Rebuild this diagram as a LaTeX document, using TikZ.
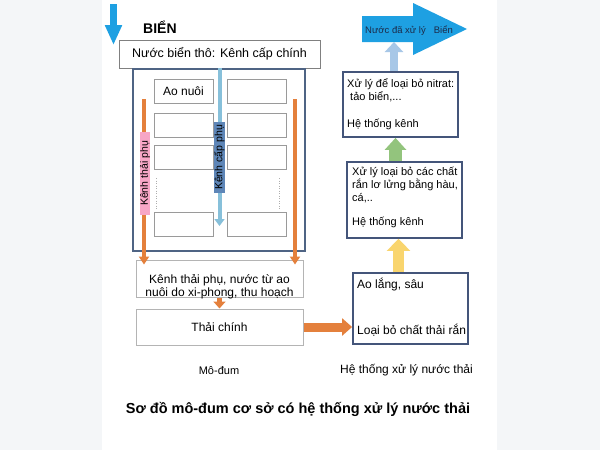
\documentclass[tikz,border=0pt]{standalone}
\usepackage{fontspec}
\setmainfont{Liberation Sans}
\usetikzlibrary{arrows.meta,positioning}

\definecolor{bggray}{HTML}{F4F6F8}
\definecolor{seablue}{HTML}{1EA0E2}
\definecolor{chanorange}{HTML}{E4803C}
\definecolor{chanblue}{HTML}{87C0DA}
\definecolor{steel}{HTML}{5E86B8}
\definecolor{pinklbl}{HTML}{F7A6C6}
\definecolor{framecol}{HTML}{4F6484}
\definecolor{rboxcol}{HTML}{44557A}
\definecolor{pondgray}{HTML}{9A9A9A}
\definecolor{draingray}{HTML}{B4B4B4}
\definecolor{yellowarr}{HTML}{F9D56E}
\definecolor{greenarr}{HTML}{93C47D}
\definecolor{lightarr}{HTML}{A7C7E7}
\definecolor{navytxt}{HTML}{1C2B4A}

\begin{document}
\begin{tikzpicture}[x=1pt,y=-1pt,
  boxfont/.style={font=\fontsize{12}{12.5}\selectfont},
  rtxt/.style={font=\fontsize{11}{13.5}\selectfont,align=left,inner sep=0pt,anchor=base west},
  pond/.style={draw=pondgray,line width=0.8pt,minimum width=59pt,minimum height=24pt,inner sep=0pt},
  rbox/.style={draw=rboxcol,line width=1.8pt,fill=white,minimum width=115pt,inner sep=0pt},
  drainbox/.style={draw=draingray,line width=1pt,fill=white,minimum width=167pt,inner sep=0pt,boxfont},
  chlabel/.style={rotate=90,inner sep=0pt,font=\fontsize{10.5}{12}\selectfont},
  drainarr/.style={line width=4pt,chanorange,-{Triangle[width=10pt,length=8pt]}}]

% page
  \fill[bggray] (0,0) rectangle (600,450);
  \fill[white] (102,0) rectangle (497,450);
  \useasboundingbox (0,0) rectangle (600,450);

% sea inlet
  \coordinate (seatop) at (113.5,4);
  \coordinate (seatip) at (113.5,45);
  \draw[line width=7pt,seablue,-{Triangle[width=16pt,length=20pt]}] (seatop) -- (seatip);
  \node[font=\bfseries\fontsize{14}{16}\selectfont,anchor=base west,inner sep=0pt] (bien) at (143,33) {BIỂN};

  \node[draw=gray,line width=0.8pt,fill=white,minimum width=201pt,minimum height=28pt,font=\fontsize{12.5}{14}\selectfont] (raw) at (219.5,54) {Nước biển thô: Kênh cấp chính\hspace{8pt}};

% module with ponds
  \node[draw=framecol,line width=1.8pt,minimum width=172pt,minimum height=182pt] (module) at (219,160) {};
  \foreach \r/\yc in {1/91.5,2/125,3/157.5,4/224.5} {
    \node[pond] (pl\r) at (183.5,\yc) {};
    \node[pond] (pr\r) at (257,\yc) {};
  }
  \node[boxfont] (aonuoi) at (pl1.center) {Ao nuôi};
  \draw[pondgray!80,line width=0.8pt,dash pattern=on 1pt off 1.5pt] (156,178) -- (156,210);
  \draw[pondgray!80,line width=0.8pt,dash pattern=on 1pt off 1.5pt] (279,178) -- (279,210);

% drainage boxes
  \node[drainbox,minimum height=37pt] (drain) at (219.5,278.5) {};
  \node[boxfont,align=center,inner sep=0pt] (draintxt) at (219.5,287) {Kênh thải phụ, nước từ ao\\nuôi do xi-phong, thu hoạch};
  \node[drainbox,minimum height=36pt] (main) at (219.5,327) {Thải chính};

% supply channel
  \coordinate (sup) at (219.5,0);
  \coordinate (supend) at (219.5,226);
  \draw[line width=4pt,chanblue,-{Triangle[width=10pt,length=7pt]}] (sup |- raw.south) -- (supend);
  \node[chlabel,fill=steel,minimum width=71pt,minimum height=11pt] (kcp) at (219.5,157.5) {Kênh cấp phụ};

% drain channels
  \coordinate (dl) at (144,99);
  \coordinate (dr) at (295,99);
  \draw[drainarr] (dl) -- ([yshift=-5pt]dl |- drain.north);
  \draw[drainarr] (dr) -- ([yshift=-5pt]dr |- drain.north);
  \node[chlabel,fill=pinklbl,minimum width=83pt,minimum height=10pt] (ktp) at (145,173.5) {Kênh thải phụ};
  \draw[line width=5pt,chanorange,-{Triangle[width=12pt,length=7pt]}] (drain.south) -- (main.north);

% treatment chain (multi-line texts sit on their last baseline)
  \node[rbox,minimum height=71pt] (settle) at (410.5,308.5) {};
  \node[rtxt,font=\fontsize{12}{14}\selectfont] (settletop) at (357,288) {Ao lắng, sâu};
  \node[rtxt,font=\fontsize{12}{14}\selectfont] (settlebot) at (357,334) {Loại bỏ chất thải rắn};

  \node[rbox,minimum height=76pt] (oyster) at (404.5,200) {};
  \node[rtxt,font=\fontsize{11}{13}\selectfont] (oystertxt) at (352,225) {Xử lý loại bỏ các chất\\rắn lơ lửng bằng hàu,\\cá,..\\[11pt]Hệ thống kênh};

  \node[rbox,minimum height=65pt] (algae) at (400.5,104.5) {};
  \node[rtxt] (algaetxt) at (347,127) {Xử lý để loại bỏ nitrat:\\\hspace{3pt}tảo biển,...\\[13pt]Hệ thống kênh};

  \draw[line width=9pt,chanorange,-{Triangle[width=17pt,length=10pt]}] (main.east) -- (main.east -| settle.west);

  \coordinate (ya) at (398.5,0);
  \draw[line width=11pt,yellowarr,-{Triangle[width=23pt,length=12pt]}] (ya |- settle.north) -- (ya |- oyster.south);
  \coordinate (ga) at (395.5,0);
  \draw[line width=13pt,greenarr,-{Triangle[width=21pt,length=12pt]}] (ga |- oyster.north) -- (ga |- algae.south);
  \coordinate (la) at (394,0);
  \coordinate (outbase) at (394,42);
  \draw[line width=8pt,lightarr,-{Triangle[width=18pt,length=10pt]}] (la |- algae.north) -- (outbase);

% treated water out
  \fill[seablue] (362,16) -- (413,16) -- (413,3) -- (467,29) -- (413,55) -- (413,42) -- (362,42) -- cycle;
  \node[font=\fontsize{9.5}{11}\selectfont,text=navytxt,anchor=base west,inner sep=0pt] (outtxt) at (365,33) {Nước đã xử lý\hspace{8pt}Biển};

% labels
  \node[font=\fontsize{11}{13}\selectfont] (modlbl) at (219,371) {Mô-đum};
  \node[font=\fontsize{12}{14}\selectfont] (treatlbl) at (406.5,370) {Hệ thống xử lý nước thải};
  \node[font=\bfseries\fontsize{14.5}{17}\selectfont] (caption) at (298,409) {Sơ đồ mô-đum cơ sở có hệ thống xử lý nước thải};

\end{tikzpicture}
\end{document}
